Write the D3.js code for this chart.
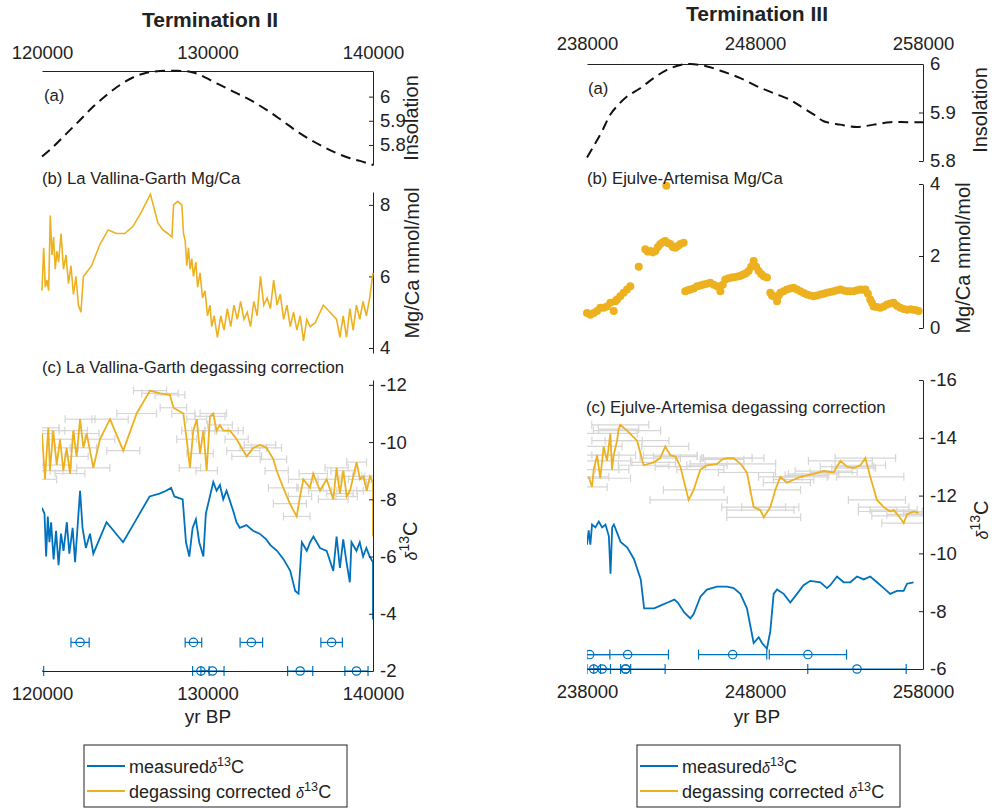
<!DOCTYPE html>
<html>
<head>
<meta charset="utf-8">
<script src="https://cdn.jsdelivr.net/npm/d3@7/dist/d3.min.js"></script>
<style>
  body { margin: 0; background: #fff; }
  text { font-family: "Liberation Sans", Arial, Helvetica, sans-serif; fill: #222; }
</style>
</head>
<body>
<svg id="chart" width="998" height="809"></svg>
<script>
// ---------- Termination II (La Vallina-Garth) ----------
const t2Insolation = [[120000,5.752],[120690,5.793],[121490,5.848],[122300,5.903],[123100,5.959],[123910,6.007],
  [124710,6.048],[125520,6.08],[126320,6.099],[127130,6.106],[128140,6.107],[128940,6.103],[129550,6.09],
  [130550,6.055],[131560,6.021],[132570,5.986],[133570,5.945],[134580,5.897],[135590,5.848],[136600,5.807],
  [137600,5.772],[138610,5.745],[139210,5.734],[140000,5.717]];

const t2MgCa = [[120000,5.6],[120100,6.8],[120200,5.7],[120300,5.9],[120400,5.6],[120500,7.7],[120600,6.6],
  [120700,7.1],[120800,6.2],[120900,6.7],[121000,6.4],[121150,7.2],[121300,6.2],[121450,6.6],[121600,5.8],
  [121750,6.3],[121900,5.5],[122050,6.0],[122200,5.2],[122350,5.0],[122500,6.0],[123000,6.3],[123500,6.9],
  [124000,7.3],[124500,7.2],[125000,7.2],[125500,7.4],[126000,7.8],[126550,8.3],[127000,7.5],[127300,7.3],
  [127600,7.2],[127850,7.1],[127950,8.0],[128200,8.1],[128450,8.0],[128550,7.2],[128650,7.0],[128750,6.3],
  [128850,6.8],[128950,6.2],[129050,6.5],[129150,6.0],[129300,6.4],[129400,5.7],[129550,6.1],[129700,5.4],
  [129850,5.6],[130000,4.9],[130150,5.2],[130250,4.6],[130400,4.9],[130600,4.3],[130800,4.9],[131000,4.5],
  [131200,5.1],[131400,4.6],[131600,5.2],[131800,4.8],[132000,5.3],[132200,4.8],[132400,5.0],[132600,4.6],
  [132800,5.3],[133000,4.9],[133200,6.0],[133400,5.2],[133600,5.4],[133800,5.1],[134000,5.9],[134200,5.2],
  [134400,5.5],[134600,4.8],[134800,5.2],[135000,4.6],[135200,5.0],[135400,4.5],[135600,4.9],[135800,4.2],
  [136000,4.8],[136200,4.6],[136500,4.7],[137000,5.2],[137400,5.0],[137800,4.8],[138000,4.3],[138200,4.9],
  [138400,4.3],[138600,5.1],[138800,4.5],[139000,5.2],[139200,4.8],[139400,5.3],[139600,4.9],[139800,5.4],
  [140000,6.1]];

const t2Measured = [[120000,-7.7],[120150,-7.5],[120250,-6.0],[120350,-7.4],[120450,-6.5],[120550,-7.2],
  [120700,-5.9],[120850,-6.9],[121000,-5.7],[121150,-6.8],[121300,-6.2],[121500,-7.2],[121650,-6.1],
  [121850,-7.0],[122000,-5.8],[122300,-8.3],[122450,-7.0],[122650,-6.3],[122900,-6.8],[123100,-6.1],
  [123900,-7.2],[124900,-6.5],[125700,-7.3],[126500,-8.1],[127100,-8.2],[127500,-8.3],[127800,-8.4],
  [128000,-8.1],[128500,-8.0],[128700,-6.5],[128900,-6.0],[129100,-7.0],[129300,-7.3],[129500,-6.5],
  [129750,-6.0],[129900,-7.5],[130350,-8.6],[130550,-8.3],[130750,-8.5],[130950,-8.0],[131150,-8.3],
  [131550,-7.6],[131750,-7.2],[131950,-7.0],[132350,-7.1],[132750,-6.9],[133150,-6.8],[133550,-6.6],
  [133800,-6.4],[134200,-6.2],[134600,-5.9],[135000,-5.5],[135300,-4.8],[135500,-4.7],[135700,-6.5],
  [136000,-6.2],[136200,-6.5],[136400,-6.7],[136800,-6.3],[137200,-6.2],[137600,-5.5],[137800,-6.7],
  [138000,-5.6],[138200,-6.6],[138400,-5.8],[138600,-5.1],[138700,-6.5],[139000,-6.2],[139200,-6.5],
  [139400,-6.0],[139600,-6.3],[139800,-6.0],[140000,-5.8],[140000,-3.8]];

const t2Corrected = [[120000,-10.3],[120180,-8.7],[120380,-10.5],[120480,-9.0],[120680,-10.4],[120890,-9.2],
  [121090,-10.1],[121290,-9.0],[121490,-9.8],[121690,-8.9],[121890,-10.4],[122090,-9.5],[122300,-10.8],
  [122500,-9.8],[122700,-10.3],[123100,-9.1],[123500,-10.1],[124110,-10.8],[124910,-9.7],[125720,-11.0],
  [126530,-11.8],[127130,-11.7],[127730,-11.65],[127940,-11.2],[128540,-11.0],[128740,-10.1],[128940,-9.1],
  [129140,-10.4],[129350,-10.8],[129550,-9.6],[129750,-10.4],[129950,-9.0],[130150,-10.9],[130350,-11.0],
  [130550,-10.4],[130750,-10.6],[130960,-10.4],[131360,-10.4],[131760,-10.1],[132160,-9.7],[132370,-9.5],
  [132770,-9.8],[133170,-9.9],[133570,-9.8],[133980,-9.4],[134180,-9.0],[134580,-8.4],[134980,-7.85],
  [135390,-7.4],[135590,-8.1],[135790,-8.7],[136190,-8.4],[136390,-8.9],[136800,-8.3],[137200,-8.7],
  [137600,-8.0],[137800,-9.1],[138000,-8.2],[138210,-9.0],[138410,-8.1],[138610,-8.3],[138810,-8.8],
  [139010,-9.3],[139210,-8.7],[139420,-8.8],[139620,-8.3],[139820,-8.8],[140000,-8.6],[140000,-6.7]];

const t2CorrectedErr = [600,700,650,800,700,900,750,800,700,900,850,700,900,800,750,1000,900,1100,1000,1200,
  1000,1100,900,800,700,600,650,700,600,800,700,650,900,800,700,750,900,800,700,1000,900,800,950,900,800,700,
  900,1000,800,700,900,800,850,700,800,900,700,800,750,650,800,700,600,700,650,600,500,400,0];

// U-Th dates: [age, error], drawn on two rows of the d13C axis
const t2DatesUpper = [[122300,550],[129150,500],[132650,680],[137500,650]];
const t2DatesLower = [[119500,600],[129600,500],[130300,700],[135600,760],[139000,700]];
const t2DateRows = [-3, -2];

// ---------- Termination III (Ejulve-Artemisa) ----------
const t3Insolation = [[238000,5.807],[238400,5.831],[238890,5.861],[239390,5.896],[239790,5.913],[240380,5.933],
  [241170,5.95],[241970,5.971],[242760,5.988],[243560,5.998],[244150,6.0],[245140,5.995],[246130,5.984],
  [247130,5.971],[248120,5.954],[249110,5.94],[250100,5.926],[250700,5.913],[251490,5.896],[252090,5.882],
  [253080,5.875],[254070,5.87],[255060,5.875],[256050,5.88],[257050,5.88],[258000,5.88]];

const t3MgCa = [[238000,0.42],[238200,0.37],[238400,0.42],[238600,0.47],[238790,0.56],[238990,0.56],[239190,0.6],
  [239390,0.7],[239590,0.47],[239690,0.74],[239790,0.79],[239980,0.88],[240180,0.98],[240380,1.07],[240580,1.16],
  [241080,1.7],[241470,2.19],[241620,2.12],[241770,2.14],[241920,2.1],[242070,2.14],[242220,2.25],[242360,2.33],
  [242510,2.38],[242660,2.42],[242720,3.95],[242810,2.36],[242960,2.33],[243110,2.25],[243260,2.23],
  [243410,2.28],[243560,2.33],[243750,2.37],[243850,1.02],[244000,1.05],[244150,1.07],[244350,1.1],
  [244550,1.16],[244750,1.18],[244940,1.21],[245140,1.23],[245340,1.26],[245540,1.2],[245740,1.16],
  [245940,1.02],[246080,1.2],[246230,1.35],[246430,1.38],[246630,1.4],[246830,1.42],[247030,1.44],
  [247180,1.46],[247320,1.49],[247470,1.52],[247620,1.58],[247770,1.7],[247920,1.86],[248070,1.7],
  [248220,1.58],[248370,1.5],[248520,1.44],[248710,1.4],[248910,0.98],[249010,0.9],[249110,0.88],
  [249310,0.74],[249410,0.9],[249510,0.98],[249700,1.02],[249900,1.07],[250100,1.1],[250300,1.12],
  [250500,1.07],[250700,1.02],[250900,0.97],[251090,0.93],[251290,0.9],[251490,0.88],[251690,0.9],
  [251890,0.93],[252080,0.95],[252280,0.98],[252480,1.0],[252680,1.02],[252880,1.05],[253080,1.07],
  [253280,1.04],[253480,1.02],[253670,1.02],[253870,1.02],[254070,1.05],[254270,1.07],[254420,1.06],
  [254570,1.07],[254720,0.95],[254860,0.79],[254960,0.7],[255060,0.6],[255260,0.58],[255460,0.56],
  [255660,0.6],[255860,0.65],[256050,0.68],[256250,0.7],[256450,0.62],[256650,0.56],[256850,0.53],
  [257050,0.51],[257250,0.52],[257440,0.51],[257600,0.49],[257740,0.47]];

const t3Measured = [[238000,-10.3],[238100,-10.8],[238200,-10.3],[238300,-11.0],[238500,-10.9],[238700,-11.1],
  [238900,-10.9],[239100,-11.0],[239300,-10.6],[239400,-9.3],[239500,-10.9],[239600,-11.0],[239800,-10.7],
  [240000,-10.4],[240400,-10.2],[240800,-9.8],[241200,-9.1],[241400,-8.1],[241600,-8.1],[242000,-8.1],
  [242400,-8.2],[242800,-8.3],[243200,-8.4],[243400,-8.3],[243800,-7.95],[244150,-7.75],[244350,-7.9],
  [244750,-8.5],[245140,-8.75],[245740,-8.85],[246330,-8.85],[246730,-8.8],[247130,-8.6],[247520,-8.1],
  [247920,-6.9],[248220,-7.1],[248420,-6.9],[248710,-6.7],[248910,-7.3],[249110,-8.6],[249310,-8.75],
  [249710,-8.6],[250100,-8.3],[250500,-8.6],[250890,-8.9],[251290,-9.05],[251890,-9.0],[252280,-8.8],
  [252480,-8.9],[252880,-9.2],[253280,-9.0],[253670,-9.0],[254070,-9.2],[254470,-9.1],[254860,-9.2],
  [255260,-9.0],[255660,-8.8],[256050,-8.6],[256450,-8.7],[256850,-8.7],[257050,-8.95],[257440,-9.0]];

const t3Corrected = [[238100,-12.65],[238300,-12.3],[238400,-12.9],[238600,-13.4],[238790,-12.6],[238990,-13.7],
  [239190,-13.2],[239390,-14.15],[239490,-12.9],[239590,-13.4],[239790,-13.9],[239880,-14.3],[239980,-14.45],
  [240380,-14.25],[240980,-13.9],[241370,-13.05],[241970,-13.15],[242360,-13.3],[242660,-13.7],[242960,-13.4],
  [243260,-13.35],[243560,-13.0],[244050,-11.85],[244350,-12.2],[244750,-12.9],[245140,-13.05],[245740,-13.1],
  [246040,-13.25],[246330,-13.3],[246730,-13.3],[247130,-13.1],[247520,-12.8],[247920,-11.6],[248320,-11.5],
  [248520,-11.25],[248910,-11.6],[249210,-12.2],[249510,-12.65],[249900,-12.45],[250300,-12.55],[250700,-12.65],
  [251090,-12.7],[251490,-12.75],[252090,-12.85],[252680,-12.8],[253080,-13.2],[253480,-13.0],[253870,-12.95],
  [254270,-13.05],[254570,-13.3],[254860,-12.65],[255260,-11.85],[255660,-11.6],[256050,-11.45],[256250,-11.5],
  [256550,-11.3],[256850,-11.05],[257050,-11.35],[257440,-11.45],[257740,-11.4]];

const t3CorrectedErr = [1200,900,1500,1300,1800,1100,1400,1600,1000,1300,1500,1200,1700,2000,1900,1500,1300,
  1200,1400,1600,1300,1500,2300,1800,1400,1200,1600,1300,1500,1800,2100,1700,1900,2000,2200,1700,1500,1300,
  1400,1200,1600,1300,1500,1700,1400,1900,1600,1300,1500,1800,2000,1700,1500,1900,1400,1600,1300,1200,1000,900];

const t3DatesUpper = [[238160,1200],[240420,2430],[246670,2030],[251150,2300]];
const t3DatesLower = [[238400,400],[238900,500],[240300,300],[240300,2350],[254070,2930]];
const t3DateRows = [-6.5, -6];

// ---------- shared ----------
const blue = "#0072BD", gold = "#EDB120", grey = "#d6d6d6", ink = "#222";
const svg = d3.select("#chart");

const panels = [
  {
    title: "Termination II", titleX: 210, titleY: 27,
    xDomain: [120000, 140000], xTicks: [120000, 130000, 140000], x0: 42, x1: 373, topPad: 12,
    a: [71, 165], aDomain: [5.717, 6.106], aTicks: [5.8, 5.9, 6],
    b: [192, 353], bDomain: [3.86, 8.36], bTicks: [4, 6, 8],
    c: [380, 671], cDomain: [-2, -12.17], cTicks: [-12, -10, -8, -6, -4, -2],
    insol: t2Insolation, mgca: t2MgCa, mgcaDots: false,
    measured: t2Measured, corrected: t2Corrected, corrErr: t2CorrectedErr,
    dates: [t2DatesUpper, t2DatesLower], dateRows: t2DateRows,
    subA: "(a)", subAPos: [44, 101],
    subB: "(b) La Vallina-Garth Mg/Ca", subBPos: [42, 184],
    subC: "(c) La Vallina-Garth degassing correction", subCPos: [42, 373],
    labInsol: [411, 118], labMg: [412, 263], labD: [410, 541],
    xLabel: [208, 723], legend: [84, 745, 263]
  },
  {
    title: "Termination III", titleX: 757, titleY: 21,
    xDomain: [238000, 258000], xTicks: [238000, 248000, 258000], x0: 587, x1: 923, topPad: 14,
    a: [64, 161], aDomain: [5.8, 6.0], aTicks: [5.8, 5.9, 6],
    b: [184, 328], bDomain: [0, 4], bTicks: [0, 2, 4],
    c: [380, 669], cDomain: [-6, -16], cTicks: [-16, -14, -12, -10, -8, -6],
    insol: t3Insolation, mgca: t3MgCa, mgcaDots: true,
    measured: t3Measured, corrected: t3Corrected, corrErr: t3CorrectedErr,
    dates: [t3DatesUpper, t3DatesLower], dateRows: t3DateRows,
    subA: "(a)", subAPos: [588, 94],
    subB: "(b) Ejulve-Artemisa Mg/Ca", subBPos: [587, 184],
    subC: "(c) Ejulve-Artemisa degassing correction", subCPos: [586, 413],
    labInsol: [980, 110], labMg: [963, 258], labD: [981, 520],
    xLabel: [757, 723], legend: [637, 745, 263]
  }
];

function styleAxis(g) {
  g.selectAll("path, line").attr("stroke", ink).attr("stroke-width", 1);
  g.selectAll("text").attr("font-size", 18.5).attr("fill", ink);
}

function delta(sel, size) {
  sel.append("tspan").attr("font-style", "italic").attr("font-size", size * 0.8).text("δ");
  sel.append("tspan").attr("font-size", size * 0.7).attr("dy", -size * 0.4).text("13");
  sel.append("tspan").attr("dy", size * 0.4).text("C");
}

function drawPanel(p, idx) {
  const g = svg.append("g");
  const x = d3.scaleLinear().domain(p.xDomain).range([p.x0, p.x1]);
  const ya = d3.scaleLinear().domain(p.aDomain).range([p.a[1], p.a[0]]);
  const yb = d3.scaleLinear().domain(p.bDomain).range([p.b[1], p.b[0]]);
  const yc = d3.scaleLinear().domain(p.cDomain).range([p.c[1], p.c[0]]);
  const fmt = d => String(d);

  g.append("text").attr("x", p.titleX).attr("y", p.titleY).attr("text-anchor", "middle")
    .attr("font-size", 21).attr("font-weight", "bold").text(p.title);

  // (a) insolation
  g.append("g").attr("transform", `translate(0,${p.a[0]})`)
    .call(d3.axisTop(x).tickValues(p.xTicks).tickSize(0).tickPadding(p.topPad).tickFormat(d3.format("d")))
    .call(styleAxis);
  g.append("g").attr("transform", `translate(${p.x1},0)`)
    .call(d3.axisRight(ya).tickValues(p.aTicks).tickSizeInner(-4).tickSizeOuter(0).tickPadding(7).tickFormat(fmt))
    .call(styleAxis);
  g.append("path").datum(p.insol)
    .attr("fill", "none").attr("stroke", "#111").attr("stroke-width", 2).attr("stroke-dasharray", "10,6")
    .attr("d", d3.line().curve(d3.curveCatmullRom).x(d => x(d[0])).y(d => ya(d[1])));

  // (b) Mg/Ca
  g.append("g").attr("transform", `translate(${p.x1},0)`)
    .call(d3.axisRight(yb).tickValues(p.bTicks).tickSizeInner(-4).tickSizeOuter(0).tickPadding(7).tickFormat(fmt))
    .call(styleAxis);
  if (p.mgcaDots) {
    g.append("g").selectAll("circle").data(p.mgca).enter().append("circle")
      .attr("cx", d => x(d[0])).attr("cy", d => yb(d[1])).attr("r", 4).attr("fill", gold);
  } else {
    g.append("path").datum(p.mgca)
      .attr("fill", "none").attr("stroke", gold).attr("stroke-width", 1.6)
      .attr("d", d3.line().x(d => x(d[0])).y(d => yb(d[1])));
  }

  // (c) d13C
  const clipId = "clip" + idx;
  svg.append("clipPath").attr("id", clipId).append("rect")
    .attr("x", p.x0).attr("y", 0).attr("width", p.x1 - p.x0).attr("height", 809);
  const gc = g.append("g").attr("clip-path", `url(#${clipId})`);

  const eb = gc.append("g").attr("stroke", grey).attr("stroke-width", 1.2);
  p.corrected.forEach((d, i) => {
    const e = p.corrErr[i] || 0;
    if (!e) return;
    const xl = x(d[0] - e), xr = x(d[0] + e), yy = yc(d[1]);
    eb.append("line").attr("x1", xl).attr("x2", xr).attr("y1", yy).attr("y2", yy);
    eb.append("line").attr("x1", xl).attr("x2", xl).attr("y1", yy - 4).attr("y2", yy + 4);
    eb.append("line").attr("x1", xr).attr("x2", xr).attr("y1", yy - 4).attr("y2", yy + 4);
  });

  const lc = d3.line().x(d => x(d[0])).y(d => yc(d[1]));
  gc.append("path").datum(p.measured).attr("fill", "none").attr("stroke", blue).attr("stroke-width", 1.8).attr("d", lc);
  gc.append("path").datum(p.corrected).attr("fill", "none").attr("stroke", gold).attr("stroke-width", 1.8).attr("d", lc);

  const dg = gc.append("g").attr("stroke", blue).attr("stroke-width", 1.2).attr("fill", "none");
  p.dates.forEach((row, r) => {
    const yy = yc(p.dateRows[r]);
    row.forEach(d => {
      const xl = x(d[0] - d[1]), xr = x(d[0] + d[1]);
      dg.append("line").attr("x1", xl).attr("x2", xr).attr("y1", yy).attr("y2", yy);
      dg.append("line").attr("x1", xl).attr("x2", xl).attr("y1", yy - 5).attr("y2", yy + 5);
      dg.append("line").attr("x1", xr).attr("x2", xr).attr("y1", yy - 5).attr("y2", yy + 5);
      dg.append("circle").attr("cx", x(d[0])).attr("cy", yy).attr("r", 4.2);
    });
  });

  g.append("g").attr("transform", `translate(${p.x1},0)`)
    .call(d3.axisRight(yc).tickValues(p.cTicks).tickSizeInner(-4).tickSizeOuter(0).tickPadding(7).tickFormat(fmt))
    .call(styleAxis);
  g.append("g").attr("transform", `translate(0,${p.c[1]})`)
    .call(d3.axisBottom(x).tickValues(p.xTicks).tickSize(0).tickPadding(16).tickFormat(d3.format("d")))
    .call(styleAxis);

  // panel captions
  [[p.subA, p.subAPos], [p.subB, p.subBPos], [p.subC, p.subCPos]].forEach(([t, pos]) => {
    g.append("text").attr("x", pos[0]).attr("y", pos[1]).attr("font-size", 16.7).text(t);
  });

  // axis labels
  const vlab = (pos) => g.append("text").attr("text-anchor", "middle").attr("font-size", 20)
    .attr("transform", `translate(${pos[0] + 7},${pos[1]}) rotate(-90)`);
  vlab(p.labInsol).text("Insolation");
  vlab(p.labMg).text("Mg/Ca mmol/mol");
  delta(vlab(p.labD), 20);

  g.append("text").attr("x", p.xLabel[0]).attr("y", p.xLabel[1]).attr("text-anchor", "middle")
    .attr("font-size", 19).text("yr BP");

  // legend
  const [lx, ly, lw] = p.legend;
  const lg = g.append("g");
  lg.append("rect").attr("x", lx).attr("y", ly).attr("width", lw).attr("height", 62)
    .attr("fill", "#fff").attr("stroke", ink).attr("stroke-width", 1);
  [["measured", blue, 0], ["degassing corrected ", gold, 1]].forEach(([t, c, i]) => {
    const yy = ly + 21 + i * 25;
    lg.append("line").attr("x1", lx + 3).attr("x2", lx + 41).attr("y1", yy).attr("y2", yy)
      .attr("stroke", c).attr("stroke-width", 2);
    const tx = lg.append("text").attr("x", lx + 45).attr("y", yy + 7).attr("font-size", 18);
    tx.append("tspan").text(t);
    delta(tx, 18);
  });
}

panels.forEach(drawPanel);
</script>
</body>
</html>
